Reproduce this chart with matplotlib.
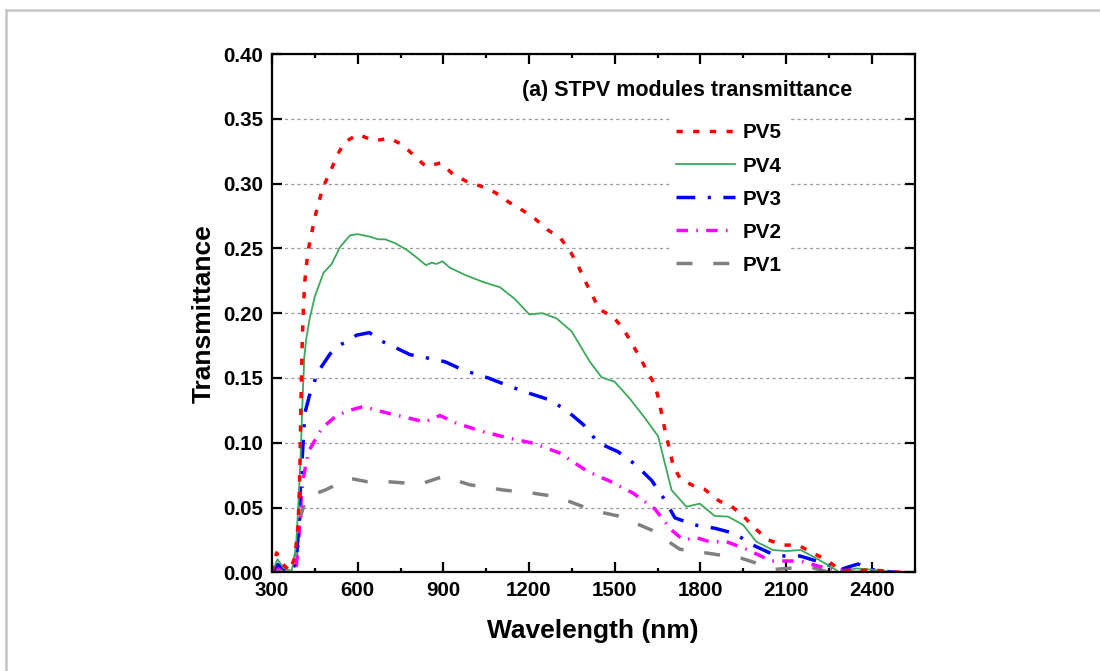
import numpy as np
import matplotlib
matplotlib.use("Agg")
import matplotlib.pyplot as plt
import matplotlib.ticker as ticker
from matplotlib.lines import Line2D

plt.rcParams['font.family'] = ['Liberation Sans', 'DejaVu Sans']
plt.rcParams['font.weight'] = 'bold'

# transmittance spectra of the five STPV modules (wavelength in nm)
x5 = [300, 316, 334, 363, 380, 386, 391, 395, 398, 400, 403, 406, 410, 414, 419,
      428, 439, 450, 464, 480, 504, 526, 554, 601, 657, 711, 757, 800, 840, 890,
      930, 978, 1031, 1082, 1127, 1180, 1220, 1267, 1310, 1346, 1371, 1396, 1421, 1446, 1495,
      1530, 1559, 1588, 1614, 1640, 1656, 1667, 1679, 1693, 1705, 1730, 1774, 1815, 1866, 1909,
      1952, 1996, 2037, 2090, 2142, 2193, 2242, 2288, 2341, 2393, 2446, 2500]
y5 = [0.0, 0.015, 0.007, 0.001, 0.012, 0.025, 0.036, 0.058, 0.085, 0.115, 0.150, 0.180, 0.205, 0.222, 0.235,
      0.250, 0.262, 0.274, 0.286, 0.298, 0.309, 0.321, 0.332, 0.338, 0.333, 0.335, 0.330, 0.321, 0.313, 0.316,
      0.308, 0.302, 0.298, 0.293, 0.286, 0.279, 0.273, 0.264, 0.258, 0.247, 0.237, 0.225, 0.214, 0.203, 0.197,
      0.188, 0.177, 0.166, 0.155, 0.145, 0.132, 0.119, 0.107, 0.094, 0.082, 0.072, 0.067, 0.064, 0.055, 0.051,
      0.043, 0.033, 0.025, 0.021, 0.021, 0.015, 0.0095, 0.002, 0.001, 0.002, 0.001, 0.0]

x4 = [300, 319, 340, 369, 384, 392, 400, 406, 413, 419, 431, 450, 480, 509, 538,
      573, 599, 643, 672, 696, 731, 771, 806, 839, 859, 876, 897, 923, 981, 1040,
      1098, 1150, 1201, 1247, 1296, 1349, 1387, 1413, 1454, 1500, 1553, 1606, 1652, 1699, 1751,
      1798, 1850, 1897, 1950, 1996, 2054, 2101, 2151, 2206, 2252, 2288, 2346, 2404, 2486]
y4 = [0.0, 0.010, 0.0035, 0.001, 0.020, 0.051, 0.089, 0.128, 0.166, 0.179, 0.195, 0.213, 0.231, 0.238, 0.251,
      0.260, 0.261, 0.259, 0.257, 0.257, 0.254, 0.249, 0.243, 0.237, 0.239, 0.238, 0.240, 0.235, 0.229, 0.224,
      0.220, 0.211, 0.199, 0.200, 0.196, 0.186, 0.172, 0.1625, 0.1505, 0.147, 0.134, 0.119, 0.105, 0.0635, 0.0506,
      0.053, 0.0435, 0.043, 0.0365, 0.0236, 0.0172, 0.0164, 0.0172, 0.0108, 0.0049, 0.0, 0.003, 0.002, 0.0]

x3 = [300, 320, 340, 370, 385, 392, 398, 404, 415, 433, 462, 503, 538, 561, 596,
      641, 678, 736, 783, 853, 906, 970, 1057, 1127, 1203, 1273, 1331, 1390, 1442, 1512,
      1570, 1629, 1675, 1711, 1781, 1850, 1920, 1984, 2066, 2148, 2218, 2288, 2352, 2404, 2480]
y3 = [0.0, 0.006, 0.003, 0.0, 0.010, 0.030, 0.060, 0.082, 0.123, 0.138, 0.155, 0.1685, 0.1755, 0.178, 0.183,
      0.185, 0.179, 0.173, 0.168, 0.165, 0.1625, 0.156, 0.150, 0.144, 0.138, 0.133, 0.125, 0.114, 0.100, 0.093,
      0.0836, 0.071, 0.056, 0.042, 0.0365, 0.034, 0.030, 0.021, 0.0126, 0.0126, 0.008, 0.002, 0.0064, 0.002, 0.0]

x2 = [300, 320, 340, 370, 385, 392, 398, 403, 410, 427, 474, 526, 573, 620, 666,
      760, 836, 888, 946, 1040, 1133, 1215, 1308, 1390, 1442, 1477, 1565, 1640, 1699, 1740,
      1786, 1833, 1892, 1961, 2049, 2148, 2242, 2306, 2400, 2480]
y2 = [0.0, 0.004, 0.002, 0.0, 0.005, 0.020, 0.040, 0.060, 0.073, 0.093, 0.111, 0.121, 0.125, 0.128, 0.125,
      0.120, 0.116, 0.121, 0.115, 0.1085, 0.1034, 0.0996, 0.092, 0.080, 0.074, 0.071, 0.061, 0.049, 0.0326, 0.025,
      0.0267, 0.0236, 0.0236, 0.0178, 0.0087, 0.0087, 0.003, 0.002, 0.001, 0.0]

x1 = [300, 320, 340, 370, 385, 392, 403, 421, 486, 573, 631, 701, 818, 900, 993,
      1110, 1215, 1296, 1390, 1442, 1512, 1629, 1728, 1827, 1944, 2062, 2183, 2250, 2350, 2450]
y1 = [0.0, 0.002, 0.001, 0.0, 0.010, 0.035, 0.0455, 0.058, 0.0635, 0.0725, 0.070, 0.070, 0.068, 0.074, 0.0675,
      0.0635, 0.061, 0.0584, 0.0506, 0.0468, 0.0435, 0.0326, 0.0178, 0.0147, 0.0108, 0.0023, 0.0043, 0.0, 0.0, 0.0]

labels = ['PV5', 'PV4', 'PV3', 'PV2', 'PV1']
xticks = [300, 600, 900, 1200, 1500, 1800, 2100, 2400]
yticks = [0.0, 0.05, 0.10, 0.15, 0.20, 0.25, 0.30, 0.35, 0.40]

fig = plt.figure(figsize=(11, 6.71), dpi=100)
ax = fig.add_axes([0.2473, 0.1471, 0.5841, 0.7724])

# light frame around the figure (top and left only)
fig.add_artist(Line2D([6/1100, 1], [1 - 9.5/671, 1 - 9.5/671], transform=fig.transFigure,
                      color='#c4c4c4', lw=1.8))
fig.add_artist(Line2D([6/1100, 6/1100], [0, 1 - 9.5/671], transform=fig.transFigure,
                      color='#c4c4c4', lw=1.8))

lw = 2.5
l1, = ax.plot(x1, y1, color='#808080', lw=lw, linestyle=(0, (4.6, 6.0)))
l2, = ax.plot(x2, y2, color='#ff00ff', lw=lw, linestyle=(0, (3.3, 2.4, 0.45, 2.4)))
l3, = ax.plot(x3, y3, color='#0000ff', lw=lw, linestyle=(0, (5.4, 3.6, 0.9, 3.6)))
l4, = ax.plot(x4, y4, color='#3aaa5a', lw=1.3)
l5, = ax.plot(x5, y5, color='#ff0000', lw=lw, linestyle=(0, (1.8, 3.0)))

ax.set_xlim(300, 2550)
ax.set_ylim(0, 0.40)
ax.set_xticks(xticks)
ax.xaxis.set_minor_locator(ticker.MultipleLocator(150))
ax.set_yticks(yticks)
ax.yaxis.set_major_formatter(ticker.FormatStrFormatter('%.2f'))

ax.yaxis.grid(True, color='#9a9a9a', linestyle=(0, (2.5, 2.5)), lw=0.9)
ax.set_axisbelow(True)

for s in ax.spines.values():
    s.set_linewidth(1.6)
ax.tick_params(which='both', direction='in', top=True, right=True, width=1.6)
ax.tick_params(which='major', length=7)
ax.tick_params(which='minor', length=3)
ax.tick_params(axis='y', which='minor', left=False, right=False)
ax.tick_params(axis='y', labelsize=14.8, pad=6.5)
ax.tick_params(axis='x', labelsize=14.8, pad=6)

ax.set_xlabel('Wavelength (nm)', fontsize=19, fontweight='bold')
ax.set_ylabel('Transmittance', fontsize=19, fontweight='bold')
ax.xaxis.set_label_coords(0.5, -0.09)
ax.yaxis.set_label_coords(-0.088, 0.5)

ax.text(0.389, 0.9305, '(a) STPV modules transmittance', transform=ax.transAxes,
        fontsize=15.5, fontweight='bold', va='center', ha='left')

leg = ax.legend([l5, l4, l3, l2, l1], labels, loc='upper left',
                bbox_to_anchor=(0.6195, 0.878), borderaxespad=0, borderpad=0.3,
                fontsize=14.9, handlelength=2.85, handletextpad=0.37, labelspacing=0.68,
                frameon=True, fancybox=False, framealpha=1)
leg.get_frame().set_edgecolor('none')
leg.get_frame().set_facecolor('white')

fig.savefig('out.png', dpi=100)
